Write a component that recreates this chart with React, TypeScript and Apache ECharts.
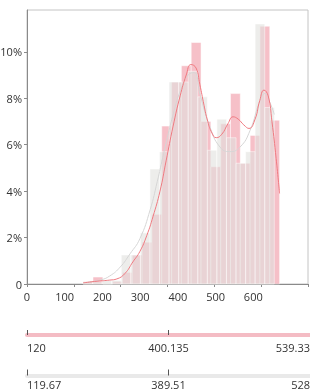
import React, { useEffect, useRef } from 'react';
import * as echarts from 'echarts';

// Histogram data (percent of observations per bin)
const pinkRange = [120, 539.33];
const pinkBins = [0.1, 0.3, 0, 0.1, 0.5, 1.25, 1.8, 3.0, 6.8, 8.7, 9.4, 10.4, 7.0, 5.05, 6.9, 8.2, 5.2, 6.4, 11.1, 7.05];
const greyRange = [119.67, 528];
const greyBins = [0.1, 0.1, 0.15, 0.15, 1.25, 1.25, 2.2, 4.95, 5.7, 8.7, 8.7, 9.16, 8.06, 5.76, 7.1, 6.3, 5.2, 5.7, 11.2, 7.6];

// Density curves [x, percent]
const pinkKde = [
  [120, 0.05], [149.5, 0.12], [177, 0.17], [192, 0.22], [209, 0.45], [226, 0.95], [241, 1.4],
  [256, 2.1], [269, 2.9], [284, 4.0], [297, 5.3], [312, 6.8], [327, 8.1], [340, 9.0], [350, 9.45],
  [361, 9.3], [369, 8.6], [378, 7.7], [386, 7.0], [395, 6.5], [404, 6.3], [416, 6.45], [429, 6.9],
  [440, 7.2], [451, 7.1], [463, 6.85], [474, 6.7], [487, 7.1], [497, 7.9], [506, 8.35], [515, 8.1],
  [523, 7.0], [532, 5.4], [539.33, 3.9],
];
const greyKde = [
  [119.67, 0.05], [156, 0.17], [177, 0.35], [199, 0.73], [220, 1.3], [241, 1.95], [263, 3.2],
  [278, 4.4], [295, 5.9], [312, 7.3], [327, 8.3], [344, 9.0], [357, 9.1], [369, 8.2], [390, 6.8],
  [412, 5.9], [433, 5.7], [455, 5.9], [476, 6.6], [497.5, 7.9], [508, 8.2], [519, 7.8], [528, 7.3],
];

// Summary strips: min, median, max
const pinkSummary = ['120', '400.135', '539.33'];
const greySummary = ['119.67', '389.51', '528'];

const xTickValues = [0, 100, 200, 300, 400, 500, 600];
const xLabelValues = [0, 100, 200, 300, 400, 500, 600];

function binData(range: number[], bins: number[]) {
  const w = (range[1] - range[0]) / bins.length;
  return bins.map((h, i) => [range[0] + i * w, range[0] + (i + 1) * w, h]);
}

function histSeries(range: number[], bins: number[], fill: string, z: number) {
  return {
    type: 'custom',
    xAxisIndex: 0,
    yAxisIndex: 0,
    z,
    data: binData(range, bins),
    renderItem: (params: any, api: any) => {
      const s = api.coord([api.value(0), api.value(2)]);
      const e = api.coord([api.value(1), 0]);
      return {
        type: 'rect',
        shape: { x: s[0], y: s[1], width: e[0] - s[0], height: e[1] - s[1] },
        style: { fill, stroke: 'rgba(255,255,255,0.8)', lineWidth: 0.6 },
      };
    },
  };
}

const FONT = 'Open Sans';

export default function App() {
  const ref = useRef<HTMLDivElement>(null);
  useEffect(() => {
    if (!ref.current) return;
    const chart = echarts.init(ref.current, null, { renderer: 'svg' });
    const labelStyle = { color: '#333', fontSize: 11, fontFamily: FONT };
    const gridBase = { containLabel: false, outerBoundsMode: 'none' };
    chart.setOption({
      animation: false,
      grid: [
        { ...gridBase, left: 27, right: 2, top: 10, height: 274, show: true, borderColor: '#c4c4c4', borderWidth: 1 },
        { ...gridBase, left: 27, right: 0, top: 334, height: 1 },
        { ...gridBase, left: 27, right: 0, top: 374.5, height: 1 },
      ],
      xAxis: [
        {
          gridIndex: 0, type: 'value', min: 0, max: 600, interval: 100,
          axisLine: { show: true, lineStyle: { color: '#8a8a8a' } },
          axisTick: { show: true, length: 3, lineStyle: { color: '#8a8a8a' }, customValues: xTickValues },
          axisLabel: { show: false },
          splitLine: { show: false },
        },
        {
          gridIndex: 0, type: 'value', min: 0, max: 745, position: 'bottom',
          axisLine: { show: false }, axisTick: { show: false }, splitLine: { show: false },
          axisLabel: { ...labelStyle, margin: 7, customValues: xLabelValues },
        },
        {
          gridIndex: 1, type: 'category', data: pinkSummary, boundaryGap: false,
          axisLine: { show: true, lineStyle: { color: '#f4bcc4', width: 4 } },
          axisTick: {
            show: true, inside: true, length: 5, interval: (i: number) => i < 2,
            lineStyle: { color: '#555', width: 1 },
          },
          axisLabel: { ...labelStyle, margin: 7, alignMinLabel: 'left', alignMaxLabel: 'right' },
        },
        {
          gridIndex: 2, type: 'category', data: greySummary, boundaryGap: false,
          axisLine: { show: true, lineStyle: { color: '#e9e9e9', width: 4 } },
          axisTick: {
            show: true, inside: true, length: 6, interval: (i: number) => i < 2,
            lineStyle: { color: '#555', width: 1 },
          },
          axisLabel: { ...labelStyle, margin: 3, lineHeight: 11, alignMinLabel: 'left', alignMaxLabel: 'right' },
        },
      ],
      yAxis: [
        {
          gridIndex: 0, type: 'value', min: 0, max: 11.8, interval: 2,
          axisLine: { show: true, lineStyle: { color: '#8a8a8a' } },
          axisTick: { show: true, length: 3, lineStyle: { color: '#8a8a8a' } },
          axisLabel: {
            ...labelStyle, margin: 5, showMaxLabel: false,
            formatter: (v: number) => (v === 0 ? '0' : v + '%'),
          },
          splitLine: { show: false },
        },
        { gridIndex: 1, type: 'value', show: false },
        { gridIndex: 2, type: 'value', show: false },
      ],
      series: [
        histSeries(pinkRange, pinkBins, 'rgba(238,140,155,0.55)', 1),
        histSeries(greyRange, greyBins, 'rgba(225,225,222,0.6)', 2),
        {
          type: 'line', xAxisIndex: 0, yAxisIndex: 0, z: 3, data: greyKde, smooth: 0.5,
          showSymbol: false, lineStyle: { color: '#d6d6d6', width: 1 },
        },
        {
          type: 'line', xAxisIndex: 0, yAxisIndex: 0, z: 4, data: pinkKde, smooth: 0.5,
          showSymbol: false, lineStyle: { color: '#ef7a80', width: 1 },
        },
      ],
    });
    return () => chart.dispose();
  }, []);
  return <div ref={ref} style={{ position: 'fixed', left: 0, top: 0, width: 310, height: 391 }} />;
}
